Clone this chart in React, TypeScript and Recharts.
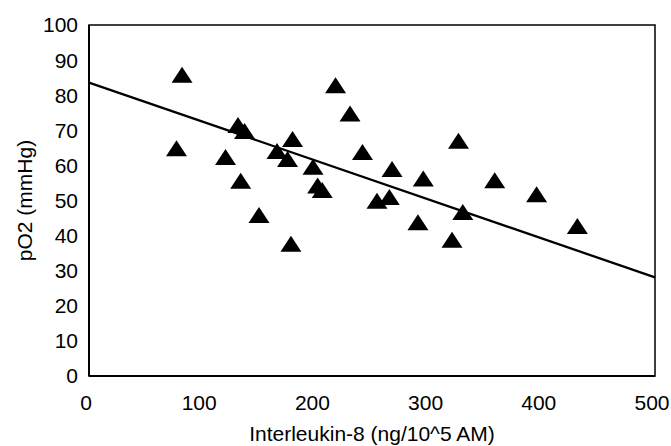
import { ScatterChart, Scatter, XAxis, YAxis, ZAxis, ReferenceLine, ReferenceArea, Label } from 'recharts';

const interleukin = [
    82.2, 77.3, 131.6, 137.4, 120.6, 134, 150.2, 166.1, 175.4, 179.8,
    178.4, 197.9, 202, 206, 217.8, 230.6, 241.6, 254.4, 265.3, 267.7,
    290.6, 295.3, 320.7, 326.4, 330.2, 358.4, 395.4, 431.4,
];
const po2 = [
    85.8, 64.9, 71.5, 69.8, 62.4, 55.6, 45.9, 64.1, 61.8, 67.5,
    37.7, 59.6, 54.3, 53, 82.8, 74.8, 63.8, 49.9, 51.0, 59.0,
    43.8, 56.3, 38.8, 67.0, 46.7, 55.8, 51.8, 42.7,
];
const xTicks = [0, 100, 200, 300, 400, 500];
const yTicks = [0, 10, 20, 30, 40, 50, 60, 70, 80, 90, 100];
const fitX = [0, 500];
const fitY = [83.6, 28.1];

const font = 'Liberation Sans, Arial, sans-serif';

const Triangle = (props: any) => {
    const { cx, cy } = props;
    const w = 21;
    const h = 16;
    return <polygon
        points={`${cx},${cy - h / 2} ${cx - w / 2},${cy + h / 2} ${cx + w / 2},${cy + h / 2}`}
        fill="#000"
    />
}

export default function App() {
    const data = interleukin.map((x, i) => ({ x, y: po2[i] }));

    return <div style={{ position: 'absolute', left: 0, top: 0, background: '#fff' }}>
        <ScatterChart
            width={671}
            height={446}
            margin={{ top: 25, right: 16, left: 0, bottom: 0 }}
        >
            <XAxis
                type="number"
                dataKey="x"
                domain={[0, 500]}
                ticks={xTicks}
                height={70}
                tickLine={false}
                tickSize={0}
                tickMargin={19}
                axisLine={{ stroke: '#000', strokeWidth: 2 }}
                tick={{ fill: '#000', fontSize: 21, fontFamily: font, dx: -3 }}
            >
                <Label
                    content={({ viewBox }: any) => <text
                        x={viewBox.x + viewBox.width / 2}
                        y={viewBox.y + viewBox.height - 5}
                        textAnchor="middle"
                        fontSize={21}
                        fontFamily={font}
                        fill="#000"
                    >Interleukin-8 (ng/10^5 AM)</text>}
                />
            </XAxis>
            <YAxis
                type="number"
                dataKey="y"
                domain={[0, 100]}
                ticks={yTicks}
                width={89}
                tickLine={false}
                tickSize={0}
                tickMargin={11}
                axisLine={{ stroke: '#000', strokeWidth: 2 }}
                tick={{ fill: '#000', fontSize: 21, fontFamily: font }}
            >
                <Label
                    content={({ viewBox }: any) => {
                        const cx = 32;
                        const cy = viewBox.y + viewBox.height / 2;
                        return <text
                            x={cx}
                            y={cy}
                            transform={`rotate(-90 ${cx} ${cy})`}
                            textAnchor="middle"
                            fontSize={21}
                            fontFamily={font}
                            fill="#000"
                        >pO2 (mmHg)</text>
                    }}
                />
            </YAxis>
            <ZAxis range={[190, 190]} />
            <ReferenceArea x1={0} x2={500} y1={0} y2={100} fill="none" stroke="#000" strokeWidth={1.5} />
            <ReferenceLine
                segment={[{ x: fitX[0], y: fitY[0] }, { x: fitX[1], y: fitY[1] }]}
                stroke="#000"
                strokeWidth={2.3}
            />
            <Scatter data={data} shape={Triangle} isAnimationActive={false} />
        </ScatterChart>
    </div>
}
